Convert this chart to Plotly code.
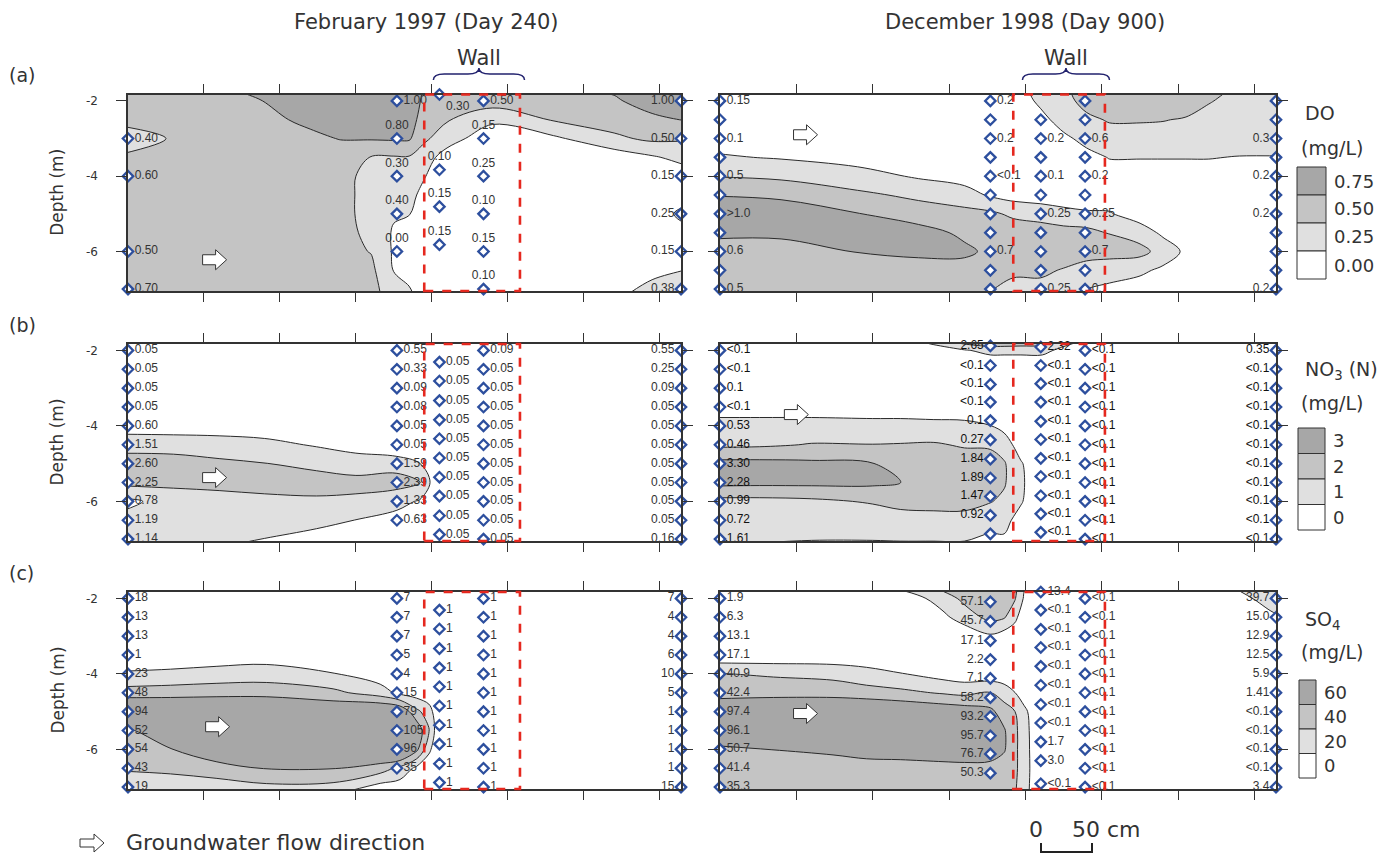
import plotly.graph_objects as go

W, H = 1398, 854

# ---------------------------------------------------------------- grid rows (m)
ROWS = [-1.8, -2.0, -2.5, -3.0, -3.5, -4.0, -4.5, -5.0, -5.5, -6.0, -6.5, -7.1]
DEPTHS = [-2.0, -2.5, -3.0, -3.5, -4.0, -4.5, -5.0, -5.5, -6.0, -6.5, -7.0]
INT_DEPTHS = [-2, -3, -4, -5, -6, -7]

# ---------------------------------------------------------------- contoured fields (columns top->bottom)
do97_x = [-5, 40, 80, 120, 140, 160, 175, 185, 195, 210, 240, 280, 320, 345, 370]
do97_cols = [
    [0.6, 0.6, 0.55, 0.4, 0.52, 0.6, 0.6, 0.6, 0.6, 0.6, 0.65, 0.7],
    [0.65, 0.65, 0.62, 0.55, 0.6, 0.62, 0.62, 0.62, 0.62, 0.62, 0.65, 0.68],
    [0.76, 0.72, 0.66, 0.62, 0.62, 0.62, 0.62, 0.62, 0.62, 0.62, 0.64, 0.66],
    [0.88, 0.86, 0.8, 0.7, 0.64, 0.6, 0.6, 0.6, 0.6, 0.6, 0.6, 0.62],
    [0.9, 0.9, 0.85, 0.76, 0.62, 0.58, 0.57, 0.57, 0.57, 0.58, 0.6, 0.6],
    [0.9, 0.9, 0.85, 0.77, 0.49, 0.42, 0.42, 0.42, 0.45, 0.49, 0.56, 0.6],
    [0.9, 0.9, 0.85, 0.78, 0.48, 0.4, 0.35, 0.28, 0.22, 0.22, 0.24, 0.35],
    [0.9, 0.9, 0.85, 0.78, 0.48, 0.38, 0.3, 0.26, 0.15, 0.12, 0.18, 0.28],
    [0.72, 0.7, 0.65, 0.55, 0.35, 0.26, 0.2, 0.15, 0.12, 0.1, 0.12, 0.15],
    [0.62, 0.6, 0.52, 0.35, 0.15, 0.12, 0.12, 0.12, 0.12, 0.12, 0.1, 0.1],
    [0.7, 0.62, 0.3, 0.1, 0.08, 0.08, 0.08, 0.08, 0.08, 0.08, 0.08, 0.08],
    [0.7, 0.68, 0.52, 0.2, 0.08, 0.08, 0.08, 0.08, 0.08, 0.08, 0.08, 0.1],
    [0.76, 0.72, 0.62, 0.45, 0.1, 0.08, 0.08, 0.08, 0.08, 0.08, 0.1, 0.2],
    [0.9, 0.85, 0.7, 0.55, 0.22, 0.12, 0.1, 0.12, 0.12, 0.1, 0.2, 0.32],
    [0.95, 0.9, 0.77, 0.52, 0.35, 0.15, 0.15, 0.35, 0.2, 0.15, 0.26, 0.4],
]

do98_x = [-5, 40, 90, 130, 160, 177, 192, 210, 225, 240, 255, 275, 290, 305, 320, 340, 370]
do98_cols = [
    [0.1, 0.1, 0.1, 0.15, 0.28, 0.49, 0.74, 0.9, 0.8, 0.65, 0.6, 0.55],
    [0.1, 0.1, 0.1, 0.15, 0.23, 0.45, 0.7, 0.9, 0.8, 0.65, 0.6, 0.55],
    [0.1, 0.1, 0.1, 0.1, 0.15, 0.35, 0.55, 0.76, 0.85, 0.76, 0.6, 0.55],
    [0.1, 0.1, 0.1, 0.1, 0.1, 0.22, 0.45, 0.62, 0.85, 0.8, 0.65, 0.55],
    [0.1, 0.1, 0.1, 0.1, 0.1, 0.15, 0.35, 0.58, 0.7, 0.8, 0.65, 0.55],
    [0.1, 0.1, 0.1, 0.1, 0.1, 0.12, 0.22, 0.55, 0.7, 0.7, 0.62, 0.49],
    [0.1, 0.1, 0.1, 0.1, 0.1, 0.1, 0.15, 0.45, 0.65, 0.68, 0.55, 0.4],
    [0.35, 0.3, 0.18, 0.1, 0.1, 0.1, 0.12, 0.4, 0.62, 0.66, 0.55, 0.4],
    [0.45, 0.42, 0.35, 0.2, 0.1, 0.1, 0.12, 0.32, 0.6, 0.65, 0.48, 0.35],
    [0.6, 0.58, 0.45, 0.32, 0.18, 0.1, 0.12, 0.28, 0.58, 0.6, 0.4, 0.22],
    [0.62, 0.6, 0.52, 0.4, 0.26, 0.15, 0.12, 0.27, 0.49, 0.58, 0.38, 0.15],
    [0.62, 0.6, 0.52, 0.4, 0.26, 0.15, 0.1, 0.12, 0.38, 0.58, 0.3, 0.1],
    [0.64, 0.61, 0.51, 0.4, 0.26, 0.15, 0.1, 0.1, 0.2, 0.4, 0.2, 0.08],
    [0.65, 0.62, 0.48, 0.4, 0.26, 0.15, 0.1, 0.1, 0.1, 0.2, 0.12, 0.08],
    [0.55, 0.51, 0.45, 0.4, 0.26, 0.15, 0.1, 0.1, 0.1, 0.1, 0.1, 0.08],
    [0.45, 0.45, 0.42, 0.38, 0.24, 0.15, 0.1, 0.1, 0.1, 0.1, 0.1, 0.1],
    [0.45, 0.45, 0.42, 0.38, 0.24, 0.15, 0.1, 0.1, 0.1, 0.1, 0.1, 0.1],
]

no97_x = [-5, 30, 60, 90, 124, 150, 177, 192, 205, 234, 364, 370]
no97_cols = [
    [0.05, 0.05, 0.05, 0.05, 0.05, 0.6, 1.51, 2.6, 2.25, 0.78, 1.19, 1.14],
    [0.05, 0.05, 0.05, 0.05, 0.05, 0.55, 1.5, 2.5, 2.3, 1.3, 1.3, 1.2],
    [0.05, 0.05, 0.05, 0.05, 0.05, 0.5, 1.45, 2.2, 2.3, 1.6, 1.3, 1.05],
    [0.05, 0.05, 0.05, 0.05, 0.05, 0.4, 1.3, 2.02, 2.3, 1.8, 1.2, 0.95],
    [0.05, 0.05, 0.05, 0.05, 0.05, 0.2, 0.9, 1.85, 2.25, 1.9, 1.3, 0.5],
    [0.05, 0.05, 0.05, 0.05, 0.05, 0.1, 0.6, 1.5, 2.3, 1.8, 0.98, 0.4],
    [0.55, 0.55, 0.33, 0.09, 0.08, 0.05, 0.05, 1.59, 2.39, 1.33, 0.63, 0.4],
    [0.1, 0.1, 0.05, 0.05, 0.05, 0.05, 0.05, 1.02, 2.05, 0.9, 0.05, 0.05],
    [0.05, 0.05, 0.05, 0.05, 0.05, 0.05, 0.05, 0.05, 0.05, 0.05, 0.05, 0.05],
    [0.09, 0.09, 0.05, 0.05, 0.05, 0.05, 0.05, 0.05, 0.05, 0.05, 0.05, 0.05],
    [0.55, 0.55, 0.25, 0.09, 0.05, 0.05, 0.05, 0.05, 0.05, 0.05, 0.05, 0.16],
    [0.55, 0.55, 0.25, 0.09, 0.05, 0.05, 0.05, 0.05, 0.05, 0.05, 0.05, 0.16],
]

no98_x = [-5, 26, 60, 100, 118, 140, 160, 177, 186, 197, 211, 240, 364, 370]
no98_cols = [
    [0.05, 0.05, 0.05, 0.1, 0.5, 1.4, 1.8, 3.3, 3.3, 1.7, 1.5, 2.6],
    [0.05, 0.05, 0.05, 0.1, 0.5, 1.4, 1.85, 3.3, 3.25, 1.7, 1.4, 0.98],
    [0.05, 0.05, 0.05, 0.1, 0.5, 1.4, 2.05, 3.2, 3.25, 1.8, 1.4, 0.95],
    [0.05, 0.05, 0.05, 0.1, 0.45, 1.35, 2.02, 3.02, 3.2, 2.1, 1.4, 0.95],
    [0.05, 0.05, 0.05, 0.1, 0.45, 1.35, 2.05, 2.8, 3.02, 2.3, 1.6, 0.95],
    [1.3, 0.05, 0.05, 0.1, 0.4, 1.3, 2.1, 2.6, 2.7, 2.4, 1.6, 0.95],
    [2.2, 0.9, 0.05, 0.1, 0.4, 1.25, 1.9, 2.5, 2.6, 2.4, 1.6, 0.95],
    [2.65, 1.3, 0.05, 0.05, 0.3, 1.02, 1.9, 2.3, 2.4, 2.05, 1.4, 0.7],
    [2.6, 1.3, 0.05, 0.05, 0.1, 0.7, 1.5, 2.1, 2.1, 1.8, 1.3, 0.8],
    [2.5, 1.3, 0.05, 0.05, 0.05, 0.05, 0.5, 1.1, 1.2, 1.1, 0.6, 0.05],
    [2.4, 1.3, 0.05, 0.05, 0.05, 0.05, 0.05, 0.05, 0.05, 0.05, 0.05, 0.05],
    [0.5, 0.05, 0.05, 0.05, 0.05, 0.05, 0.05, 0.05, 0.05, 0.05, 0.05, 0.05],
    [0.35, 0.35, 0.05, 0.05, 0.05, 0.05, 0.05, 0.05, 0.05, 0.05, 0.05, 0.05],
    [0.35, 0.35, 0.05, 0.05, 0.05, 0.05, 0.05, 0.05, 0.05, 0.05, 0.05, 0.05],
]

so97_x = [-5, 28, 58, 91, 135, 166, 179, 190, 198, 205, 234, 364, 370]
so97_cols = [
    [18, 18, 13, 13, 1, 23, 48, 94, 52, 54, 43, 19],
    [8, 8, 6, 5, 5, 25, 50, 90, 80, 59, 47, 19],
    [6, 6, 6, 4, 8, 28, 52, 90, 88, 75, 52, 25],
    [5, 5, 5, 4, 10, 30, 52, 90, 90, 85, 61, 30],
    [5, 5, 5, 4, 5, 21, 45, 80, 90, 85, 61, 28],
    [6, 6, 6, 5, 4, 8, 30, 85, 95, 90, 50, 5],
    [7, 7, 7, 7, 5, 4, 15, 79, 105, 96, 35, 5],
    [5, 5, 5, 5, 4, 3, 10, 45, 75, 65, 15, 3],
    [3, 3, 3, 3, 3, 3, 5, 30, 42, 25, 5, 2],
    [1, 1, 1, 1, 1, 1, 1, 1, 1, 1, 1, 1],
    [1, 1, 1, 1, 1, 1, 1, 1, 1, 1, 1, 1],
    [7, 7, 4, 4, 6, 10, 5, 1, 1, 1, 1, 15],
    [7, 7, 4, 4, 6, 10, 5, 1, 1, 1, 1, 15],
]

so98_x = [-5, 35, 74, 96, 118, 146, 160, 177, 186, 193, 199, 211, 240, 330, 350, 364, 370]
so98_cols = [
    [1.9, 1.9, 6.3, 13.1, 5, 40.9, 42.4, 97.4, 96.1, 50.7, 45, 42],
    [1, 1, 3, 5, 5, 38, 50, 90, 95, 60.5, 48, 45],
    [1, 1, 3, 5, 5, 35, 50, 90, 95, 65, 48, 45],
    [1, 1, 3, 5, 5, 28, 48, 85, 95, 70, 50, 45],
    [18, 5, 3, 5, 5, 21, 45, 80, 95, 72, 50, 45],
    [40.5, 30, 15, 5, 5, 12, 38, 75, 95, 75, 52, 45],
    [52, 45, 30, 5, 3, 8, 35, 72, 95, 78, 52, 45],
    [57.1, 57.1, 45.7, 17.1, 2.2, 7.1, 40.5, 65, 95.7, 76.7, 50.3, 45],
    [55, 50, 42, 10, 3, 8, 30, 50, 62, 62, 50, 45],
    [45, 42, 25, 8, 3, 3, 20.5, 40.5, 45, 45, 45, 42],
    [20.5, 18, 8, 3, 2, 2, 10, 25, 28, 28, 28, 28],
    [13.4, 13.4, 0.05, 0.05, 0.05, 0.05, 0.05, 0.05, 0.05, 1.7, 3.0, 0.05],
    [0.05, 0.05, 0.05, 0.05, 0.05, 0.05, 0.05, 0.05, 0.05, 0.05, 0.05, 0.05],
    [15, 12, 10, 10, 8, 4, 0.05, 0.05, 0.05, 0.05, 0.05, 2],
    [25, 20.5, 14, 12.5, 9, 3, 0.05, 0.05, 0.05, 0.05, 0.05, 3],
    [39.7, 39.7, 15.0, 12.9, 12.5, 5.9, 1.41, 0.05, 0.05, 0.05, 0.05, 3.4],
    [39.7, 39.7, 15.0, 12.9, 12.5, 5.9, 1.41, 0.05, 0.05, 0.05, 0.05, 3.4],
]

# contour levels per parameter
do_levels = [0.25, 0.50, 0.75]
no3_levels = [1, 2, 3]
so4_levels = [20, 40, 60]
do_legend = ["0.75", "0.50", "0.25", "0.00"]
no3_legend = ["3", "2", "1", "0"]
so4_legend = ["60", "40", "20", "0"]

# ---------------------------------------------------------------- sampling points and labels
left_wells = [0, 177, 205, 234, 364]
right_wells = [0, 177, 210, 239, 364]
wall_left = [195, 258]
wall_right = [192, 252]

# a-left (DO Feb 1997)
a1_edge_depths = [-2, -4, -5, -6, -7]
a1_c0_depths = [-3, -4, -6, -7]
a1_c0_labels = ["0.40", "0.60", "0.50", "0.70"]
a1_c1_depths = [-2, -3, -4, -5, -6]
a1_c1_labels = ["1.00", "0.80", "0.30", "0.40", "0.00"]
a1_w1_depths = [-1.83, -3.83, -4.81, -5.82]
a1_w1_labels = ["0.30", "0.10", "0.15", "0.15"]
a1_w2_labels = ["0.50", "0.15", "0.25", "0.10", "0.15", "0.10"]
a1_r_labels = ["1.00", "0.50", "0.15", "0.25", "0.15", "0.38"]

# a-right (DO Dec 1998)
a2_c0_labels = ["0.15", "", "0.1", "", "0.5", "", ">1.0", "", "0.6", "", "0.5"]
a2_c1_labels = ["0.2", "", "0.2", "", "<0.1", "", "", "", "0.7", "", ""]
a2_w1_depths = [-2.5, -3.0, -3.5, -4.0, -4.5, -5.0, -5.5, -6.0, -6.5, -7.0]
a2_w1_labels = ["", "0.2", "", "0.1", "", "0.25", "", "", "", "0.25"]
a2_w2_labels = ["", "", "0.6", "", "0.2", "", "0.25", "", "0.7", "", "0.1"]
a2_r_labels = ["", "", "0.3", "", "0.2", "", "0.2", "", "", "", "0.2"]

# b-left (NO3 Feb 1997)
b1_c0_labels = ["0.05", "0.05", "0.05", "0.05", "0.60", "1.51", "2.60", "2.25", "0.78", "1.19", "1.14"]
b1_c1_labels = ["0.55", "0.33", "0.09", "0.08", "0.05", "0.05", "1.59", "2.39", "1.33", "0.63"]
b1_w1_depths = [-1.82, -2.31, -2.81, -3.33, -3.84, -4.34, -4.85, -5.36, -5.86, -6.38, -6.88]
b1_w1_labels = ["0.05"] * 11
b1_w2_labels = ["0.09"] + ["0.05"] * 10
b1_r_labels = ["0.55", "0.25", "0.09", "0.05", "0.05", "0.05", "0.05", "0.05", "0.05", "0.05", "0.16"]

# b-right (NO3 Dec 1998)
b2_c0_labels = ["<0.1", "<0.1", "0.1", "<0.1", "0.53", "0.46", "3.30", "2.28", "0.99", "0.72", "1.61"]
b2_c1_depths = [-1.88, -2.4, -2.9, -3.37, -3.86, -4.37, -4.88, -5.38, -5.87, -6.37, -6.86]
b2_c1_labels = ["2.65", "<0.1", "<0.1", "<0.1", "0.1", "0.27", "1.84", "1.89", "1.47", "0.92", ""]
b2_w1_depths = [-1.91, -2.4, -2.88, -3.37, -3.88, -4.36, -4.86, -5.34, -5.85, -6.33, -6.82]
b2_w1_labels = ["2.32"] + ["<0.1"] * 10
b2_w2_labels = ["<0.1"] * 11
b2_r_labels = ["0.35"] + ["<0.1"] * 10

# c-left (SO4 Feb 1997)
c1_c0_labels = ["18", "13", "13", "1", "23", "48", "94", "52", "54", "43", "19"]
c1_c1_labels = ["7", "7", "7", "5", "4", "15", "79", "105", "96", "35"]
c1_w1_labels = ["1"] * 11
c1_w2_labels = ["1"] * 11
c1_r_labels = ["7", "4", "4", "6", "10", "5", "1", "1", "1", "1", "15"]

# c-right (SO4 Dec 1998)
c2_c0_labels = ["1.9", "6.3", "13.1", "17.1", "40.9", "42.4", "97.4", "96.1", "50.7", "41.4", "35.3"]
c2_c1_depths = [-2.09, -2.61, -3.12, -3.62, -4.12, -4.63, -5.13, -5.64, -6.12, -6.63, -7.13]
c2_c1_labels = ["57.1", "45.7", "17.1", "2.2", "7.1", "58.2", "93.2", "95.7", "76.7", "50.3", ""]
c2_w1_depths = [-1.83, -2.31, -2.82, -3.3, -3.8, -4.3, -4.81, -5.3, -5.8, -6.3, -6.91]
c2_w1_labels = ["13.4", "<0.1", "<0.1", "<0.1", "<0.1", "<0.1", "<0.1", "<0.1", "1.7", "3.0", "<0.1"]
c2_w2_labels = ["<0.1"] * 11
c2_r_labels = ["39.7", "15.0", "12.9", "12.5", "5.9", "1.41", "<0.1", "<0.1", "<0.1", "<0.1", "3.4"]

# flow-direction arrows (cm, m) for each panel
arrow_pos = [(57, -6.22), (56, -2.9), (57, -5.37), (50, -3.7), (59, -5.4), (56, -5.05)]

# ---------------------------------------------------------------- styling
FONT = "Liberation Sans, Arial, sans-serif"
HFONT = "DejaVu Sans, sans-serif"
WHITE, LIGHT, MID, DARK = "#ffffff", "#e0e0e0", "#c4c4c4", "#a7a7a7"
BLUE = "#2d4f9e"
RED = "#e5281f"
TXT = "#333333"

XL = [128 / W, 681 / W]
XR = [720 / W, 1276 / W]
ROW_DOM = [[1 - 291 / H, 1 - 94.5 / H], [1 - 541 / H, 1 - 344 / H], [1 - 789 / H, 1 - 592 / H]]
YR = [-7.05, -1.83]
XRANGE = [0, 364]

fig = go.Figure()


def ax(i):
    return ("x" if i == 0 else f"x{i+1}"), ("y" if i == 0 else f"y{i+1}")


def add_field(i, xs, cols, levels):
    step = levels[1] - levels[0]
    zmax = levels[-1] + step
    z = [[col[r] for col in cols] for r in range(len(ROWS))]
    cs = [[0, WHITE], [0.25, WHITE], [0.25, LIGHT], [0.5, LIGHT],
          [0.5, MID], [0.75, MID], [0.75, DARK], [1, DARK]]
    xa, ya = ax(i)
    fig.add_trace(go.Contour(
        x=xs, y=ROWS, z=z, xaxis=xa, yaxis=ya,
        autocontour=False, zmin=0, zmax=zmax, colorscale=cs, showscale=False,
        contours=dict(start=levels[0], end=levels[-1], size=step, coloring="fill", showlines=True),
        line=dict(color="#2a2a2a", width=1.0, smoothing=1.0),
        hoverinfo="skip",
    ))


def add_points(i, xval, depths, labels=None, pos="middle right", color=TXT):
    xa, ya = ax(i)
    n = len(depths)
    fig.add_trace(go.Scatter(
        x=[xval] * n, y=depths, xaxis=xa, yaxis=ya, mode="markers",
        marker=dict(symbol="diamond", size=8, color="white", line=dict(color=BLUE, width=2.3)),
        cliponaxis=False, hoverinfo="skip", showlegend=False,
    ))
    if labels:
        keep = [k for k in range(n) if labels[k]]
        fig.add_trace(go.Scatter(
            x=[xval] * len(keep), y=[depths[k] for k in keep], xaxis=xa, yaxis=ya,
            mode="markers+text", text=[labels[k] for k in keep], textposition=pos,
            textfont=dict(family=FONT, size=12, color=color),
            marker=dict(symbol="diamond", size=9, color="rgba(0,0,0,0)", line=dict(width=0)),
            cliponaxis=False, hoverinfo="skip", showlegend=False,
        ))


# fields
add_field(0, do97_x, do97_cols, do_levels)
add_field(1, do98_x, do98_cols, do_levels)
add_field(2, no97_x, no97_cols, no3_levels)
add_field(3, no98_x, no98_cols, no3_levels)
add_field(4, so97_x, so97_cols, so4_levels)
add_field(5, so98_x, so98_cols, so4_levels)

# a-left points
add_points(0, -5, a1_edge_depths)
add_points(0, left_wells[0], a1_c0_depths, a1_c0_labels)
add_points(0, left_wells[1], a1_c1_depths[:1], a1_c1_labels[:1])
add_points(0, left_wells[1], a1_c1_depths[1:], a1_c1_labels[1:], "top center")
add_points(0, left_wells[2], a1_w1_depths[:1], a1_w1_labels[:1], "bottom right")
add_points(0, left_wells[2], a1_w1_depths[1:], a1_w1_labels[1:], "top center")
add_points(0, left_wells[3], INT_DEPTHS[:1], a1_w2_labels[:1])
add_points(0, left_wells[3], INT_DEPTHS[1:], a1_w2_labels[1:], "top center")
add_points(0, left_wells[4], INT_DEPTHS, a1_r_labels, "middle left")
# a-right
add_points(1, right_wells[0], DEPTHS, a2_c0_labels)
add_points(1, right_wells[1], DEPTHS, a2_c1_labels)
add_points(1, right_wells[2], a2_w1_depths, a2_w1_labels)
add_points(1, right_wells[3], DEPTHS, a2_w2_labels)
add_points(1, right_wells[4], DEPTHS, a2_r_labels, "middle left")
# b-left
add_points(2, left_wells[0], DEPTHS, b1_c0_labels)
add_points(2, left_wells[1], DEPTHS[:10], b1_c1_labels)
add_points(2, left_wells[2], b1_w1_depths, b1_w1_labels)
add_points(2, left_wells[3], DEPTHS, b1_w2_labels)
add_points(2, left_wells[4], DEPTHS, b1_r_labels, "middle left")
# b-right
add_points(3, right_wells[0], DEPTHS, b2_c0_labels, color="#111111")
add_points(3, right_wells[1], b2_c1_depths, b2_c1_labels, "middle left", color="#111111")
add_points(3, right_wells[2], b2_w1_depths, b2_w1_labels, color="#111111")
add_points(3, right_wells[3], DEPTHS, b2_w2_labels, color="#111111")
add_points(3, right_wells[4], DEPTHS, b2_r_labels, "middle left", color="#111111")
# c-left
add_points(4, left_wells[0], DEPTHS, c1_c0_labels)
add_points(4, left_wells[1], DEPTHS[:10], c1_c1_labels)
add_points(4, left_wells[2], b1_w1_depths, c1_w1_labels)
add_points(4, left_wells[3], DEPTHS, c1_w2_labels)
add_points(4, left_wells[4], DEPTHS, c1_r_labels, "middle left")
# c-right
add_points(5, right_wells[0], DEPTHS, c2_c0_labels)
add_points(5, right_wells[1], c2_c1_depths, c2_c1_labels, "middle left")
add_points(5, right_wells[2], c2_w1_depths, c2_w1_labels)
add_points(5, right_wells[3], DEPTHS, c2_w2_labels)
add_points(5, right_wells[4], DEPTHS, c2_r_labels, "middle left")

# ---------------------------------------------------------------- axes
layout = dict(
    width=W, height=H, margin=dict(l=0, r=0, t=0, b=0),
    paper_bgcolor="white", plot_bgcolor="white", showlegend=False,
    font=dict(family=FONT, color=TXT),
)
for i in range(6):
    row, colr = divmod(i, 2)
    xk = "xaxis" if i == 0 else f"xaxis{i+1}"
    yk = "yaxis" if i == 0 else f"yaxis{i+1}"
    xa, ya = ax(i)
    layout[xk] = dict(domain=XL if colr == 0 else XR, range=XRANGE, anchor=ya,
                      showgrid=False, zeroline=False, showticklabels=False,
                      tickvals=[50, 100, 150, 200, 250, 300, 350], ticks="outside", ticklen=9,
                      tickcolor="#333", showline=True, linecolor="#333", linewidth=1.5, mirror="ticks")
    layout[yk] = dict(domain=ROW_DOM[row], range=YR, anchor=xa,
                      showgrid=False, zeroline=False, showticklabels=(colr == 0),
                      tickvals=[-2, -4, -6], ticktext=["-2", "-4", "-6"], ticks="outside", ticklen=10,
                      ticklabelstandoff=16,
                      tickcolor="#333", showline=True, linecolor="#333", linewidth=1.5, mirror="ticks",
                      tickfont=dict(size=12, color=TXT, family=HFONT))
fig.update_layout(**layout)

# ---------------------------------------------------------------- shapes: walls, braces, arrows
shapes = []
for i in range(6):
    xa, ya = ax(i)
    wx = wall_left if i % 2 == 0 else wall_right
    shapes.append(dict(type="rect", xref=xa, yref=f"{ya} domain", x0=wx[0], x1=wx[1], y0=0, y1=1,
                       line=dict(color=RED, width=2.6, dash="dash"), fillcolor="rgba(0,0,0,0)", layer="above"))
    ax_x, ax_y = arrow_pos[i]
    shapes.append(dict(type="path", xref=xa, yref=ya, xsizemode="pixel", ysizemode="pixel",
                       xanchor=ax_x, yanchor=ax_y,
                       path="M-12,-5 L1,-5 L1,-10 L12,0 L1,10 L1,5 L-12,5 Z",
                       fillcolor="white", line=dict(color="#333", width=1)))

annotations = []
ytop = 1 - 80 / H
hb = 6 / H
for i in (0, 1):
    xa, ya = ax(i)
    wx = wall_left if i == 0 else wall_right
    x0, x1 = wx[0] + 6, wx[1] + 3
    xm = (x0 + x1) / 2
    d = (x1 - x0) * 0.12
    p = (f"M{x0},{ytop} Q{x0},{ytop + hb} {x0 + d},{ytop + hb} L{xm - d},{ytop + hb} "
         f"Q{xm},{ytop + hb} {xm},{ytop + 2 * hb} Q{xm},{ytop + hb} {xm + d},{ytop + hb} "
         f"L{x1 - d},{ytop + hb} Q{x1},{ytop + hb} {x1},{ytop}")
    shapes.append(dict(type="path", xref=xa, yref="paper", path=p, line=dict(color="#22226e", width=1.5)))
    annotations.append(dict(x=xm, y=1 - 58 / H, xref=xa, yref="paper", text="Wall", showarrow=False,
                            font=dict(size=21, color=TXT, family=HFONT), xanchor="center", yanchor="middle"))

# titles, panel letters, axis titles
annotations += [
    dict(x=426 / W, y=1 - 22 / H, text="February 1997 (Day 240)"),
    dict(x=1025 / W, y=1 - 22 / H, text="December 1998 (Day 900)"),
    dict(x=7 / W, y=1 - 75 / H, text="(a)", xanchor="left", font=dict(size=19, color=TXT, family=HFONT)),
    dict(x=7 / W, y=1 - 325 / H, text="(b)", xanchor="left", font=dict(size=19, color=TXT, family=HFONT)),
    dict(x=7 / W, y=1 - 573 / H, text="(c)", xanchor="left", font=dict(size=19, color=TXT, family=HFONT)),
]
for r in range(3):
    annotations.append(dict(x=57 / W, y=sum(ROW_DOM[r]) / 2, text="Depth (m)", textangle=-90,
                            font=dict(size=17, color=TXT, family=HFONT)))


# legends
def legend(title1, title2, ty1, ty2, box_top, box_h, labels, box_x0, box_x1):
    fills = [DARK, MID, LIGHT, WHITE]
    annotations.append(dict(x=1303 / W, y=1 - ty1 / H, text=title1, xanchor="left",
                            font=dict(size=19, color=TXT, family=HFONT)))
    annotations.append(dict(x=1299 / W, y=1 - ty2 / H, text=title2, xanchor="left",
                            font=dict(size=19, color=TXT, family=HFONT)))
    for k in range(4):
        yt = box_top + k * box_h
        shapes.append(dict(type="rect", xref="paper", yref="paper", x0=box_x0 / W, x1=box_x1 / W,
                           y0=1 - (yt + box_h) / H, y1=1 - yt / H, fillcolor=fills[k],
                           line=dict(color="#333", width=1)))
        annotations.append(dict(x=(box_x1 + 6) / W, y=1 - (yt + box_h / 2) / H, text=labels[k],
                                xanchor="left", font=dict(size=18, color=TXT, family=HFONT)))


legend("DO", "(mg/L)", 113, 148, 167, 28, do_legend, 1297, 1326)
legend("NO<sub>3</sub> (N)", "(mg/L)", 370, 403, 428, 25.5, no3_legend, 1298, 1325)
legend("SO<sub>4</sub>", "(mg/L)", 620, 652, 680, 24.5, so4_legend, 1299, 1316)

# bottom: flow direction key and scale bar
shapes.append(dict(type="path", xref="paper", yref="paper", xsizemode="pixel", ysizemode="pixel",
                   xanchor=92 / W, yanchor=1 - 843 / H,
                   path="M-12,-4 L2,-4 L2,-9 L12,0 L2,9 L2,4 L-12,4 Z",
                   fillcolor="white", line=dict(color="#333", width=1)))
annotations.append(dict(x=124 / W, y=1 - 842 / H, text="Groundwater flow direction", xanchor="left",
                        font=dict(size=22, color=TXT, family=HFONT)))
annotations.append(dict(x=1036 / W, y=1 - 829 / H, text="0", font=dict(size=22, color=TXT, family=HFONT)))
annotations.append(dict(x=1070 / W, y=1 - 829 / H, text="50 cm", xanchor="left",
                        font=dict(size=22, color=TXT, family=HFONT)))
shapes.append(dict(type="path", xref="paper", yref="paper",
                   path=f"M{1041 / W},{1 - 843 / H} L{1041 / W},{1 - 852 / H} L{1092 / W},{1 - 852 / H} L{1092 / W},{1 - 843 / H}",
                   line=dict(color="#222", width=2)))

for a in annotations:
    a.setdefault("xref", "paper")
    a.setdefault("yref", "paper")
    a.setdefault("showarrow", False)
    a.setdefault("font", dict(size=21, color=TXT, family=HFONT))
    a.setdefault("yanchor", "middle")
    a.setdefault("xanchor", "center")

fig.update_layout(shapes=shapes, annotations=annotations)
fig.write_html("out.html", config={"displayModeBar": False},
               post_script="document.body.style.margin='0';document.body.style.overflow='hidden';")
